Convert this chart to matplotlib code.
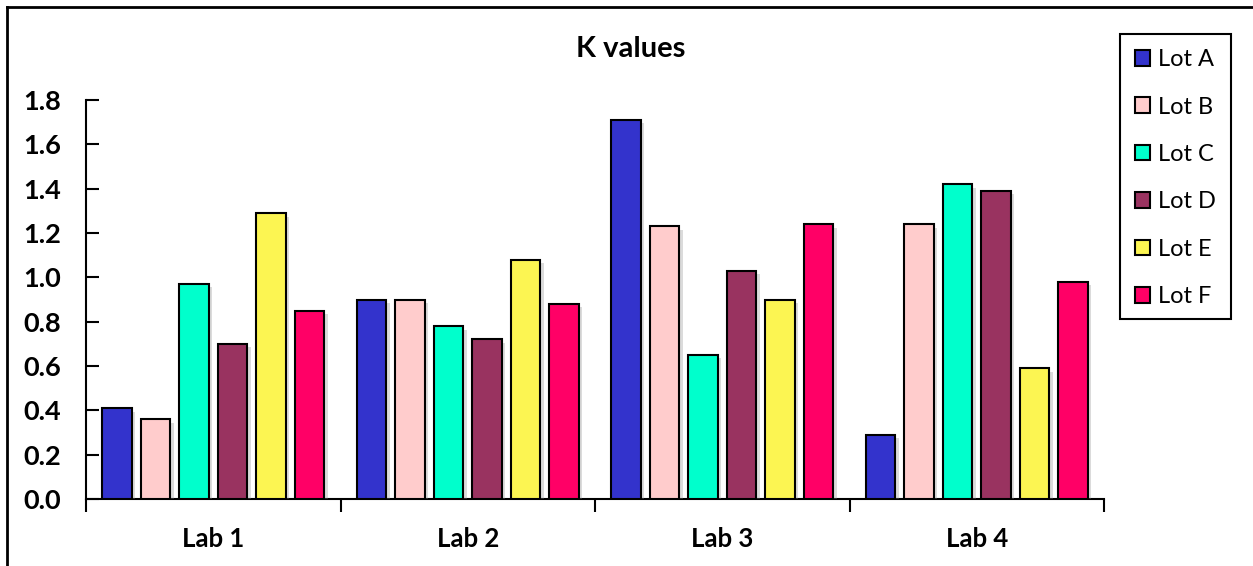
import matplotlib
matplotlib.use("Agg")
import matplotlib.pyplot as plt
import numpy as np
from matplotlib.patches import Patch, Rectangle
from matplotlib.lines import Line2D
import matplotlib.patheffects as pe

plt.rcParams['font.family'] = ['Lato', 'DejaVu Sans']

labs = ["Lab 1", "Lab 2", "Lab 3", "Lab 4"]
lots = ["Lot A", "Lot B", "Lot C", "Lot D", "Lot E", "Lot F"]
lot_a = [0.41, 0.90, 1.71, 0.29]
lot_b = [0.36, 0.90, 1.23, 1.24]
lot_c = [0.97, 0.78, 0.65, 1.42]
lot_d = [0.70, 0.72, 1.03, 1.39]
lot_e = [1.29, 1.08, 0.90, 0.59]
lot_f = [0.85, 0.88, 1.24, 0.98]
series = [lot_a, lot_b, lot_c, lot_d, lot_e, lot_f]
colors = ["#3333CC", "#FFCCCC", "#00FFCC", "#993360", "#FCF552", "#FF0066"]
yticks = [0.0, 0.2, 0.4, 0.6, 0.8, 1.0, 1.2, 1.4, 1.6, 1.8]

W, H = 1253, 566
fig = plt.figure(figsize=(W / 100, H / 100), dpi=100)
ax = fig.add_axes([86 / W, 1 - 499 / H, (1104 - 86) / W, (499 - 100) / H])

x = np.arange(len(labs))
slot = 0.151
width = 0.116
shadow = [pe.SimplePatchShadow(offset=(2.5, -2.5), shadow_rgbFace='#888888', alpha=0.3), pe.Normal()]
for j, (vals, col) in enumerate(zip(series, colors)):
    bars = ax.bar(x + (j - 2.5) * slot, vals, width, color=col,
                  edgecolor='black', linewidth=1.5, zorder=3)
    for b in bars:
        b.set_path_effects(shadow)

ax.set_xlim(-0.5, len(labs) - 0.5)
ax.set_ylim(0, 1.8)
ax.set_yticks(yticks)
ax.set_yticklabels([f"{v:.1f}" for v in yticks], fontsize=19.5, fontweight='bold')
ax.tick_params(axis='y', direction='in', length=9, width=1.5, pad=18)

ax.set_xticks(np.arange(len(labs) + 1) - 0.5)
ax.set_xticklabels([])
ax.set_xticks(x, minor=True)
ax.set_xticklabels(labs, minor=True, fontsize=18.5, fontweight='bold')
ax.tick_params(axis='x', which='major', direction='out', length=9, width=1.5)
ax.tick_params(axis='x', which='minor', length=0, pad=20)

for side in ['top', 'right']:
    ax.spines[side].set_visible(False)
for side in ['left', 'bottom']:
    ax.spines[side].set_linewidth(1.5)

fig.text(631 / W, 1 - 49 / H, "K values", ha='center', va='center',
         fontsize=21, fontweight='bold')

# legend box and entries
fig.add_artist(Rectangle((1120 / W, 1 - 319 / H), (1231 - 1120) / W, (319 - 34) / H,
                         transform=fig.transFigure, facecolor='white',
                         edgecolor='black', linewidth=1.5))
handles = [Patch(facecolor=c, edgecolor='black', linewidth=1.5) for c in colors]
leg = fig.legend(handles, lots, loc='upper left',
                 bbox_to_anchor=(1128 / W, 1 - 42 / H), borderaxespad=0,
                 fontsize=17, handlelength=0.64, handleheight=0.64,
                 handletextpad=0.33, labelspacing=1.12, borderpad=0.3,
                 frameon=False)

# outer chart-area border (top and left edges)
fig.add_artist(Line2D([7 / W, 1.0], [1 - 7 / H, 1 - 7 / H], color='black', linewidth=2))
fig.add_artist(Line2D([7 / W, 7 / W], [1 - 7 / H, 0.0], color='black', linewidth=2))

fig.savefig("out.png", dpi=100, facecolor='white')
